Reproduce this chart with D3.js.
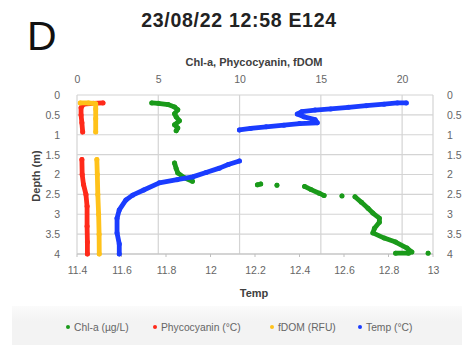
<!DOCTYPE html>
<html>
<head>
<meta charset="utf-8">
<script src="https://cdn.jsdelivr.net/npm/d3@7"></script>
<style>
  html, body { margin: 0; padding: 0; background: #ffffff; }
  svg { display: block; }
  text { font-family: "Liberation Sans", Arial, sans-serif; }
</style>
</head>
<body>
<svg id="chart" width="462" height="345"></svg>
<script>
// ---------- data ----------
const panelLabel = "D";
const title = "23/08/22 12:58 E124";
const topAxisTitle = "Chl-a, Phycocyanin, fDOM";
const bottomAxisTitle = "Temp";
const yAxisTitle = "Depth (m)";

const depthTicks = [0, 0.5, 1, 1.5, 2, 2.5, 3, 3.5, 4];
const topTicks = [0, 5, 10, 15, 20];
const bottomTicks = [11.4, 11.6, 11.8, 12, 12.2, 12.4, 12.6, 12.8, 13];

// [value, depth]; null = gap
const chlA = [
  [4.6,0.2],[5.0,0.21],[5.6,0.24],[6.0,0.3],[6.2,0.37],[6.0,0.47],[6.1,0.55],
  [6.3,0.65],[6.0,0.75],[6.2,0.83],[6.1,0.9],
  null,
  [6.0,1.71],[6.1,1.85],[6.2,1.96],[6.6,2.08],[7.1,2.17],
  null,
  [11.1,2.26],[11.3,2.24],
  null,
  [12.3,2.27],
  null,
  [14.0,2.3],[14.4,2.38],[14.9,2.47],[15.2,2.53],
  null,
  [16.3,2.54],
  null,
  [17.1,2.56],[17.5,2.7],[17.9,2.85],[18.2,2.97],[18.6,3.1],[18.6,3.2],
  [18.3,3.35],[18.2,3.47],[18.9,3.6],[19.6,3.7],[20.3,3.85],[20.6,3.95],
  null,
  [19.6,3.98],[20.4,3.98],
  null,
  [21.6,3.98]
];
const phyco = [
  [1.6,0.2],[1.0,0.21],[0.4,0.23],[0.25,0.32],[0.25,0.5],[0.3,0.7],[0.35,0.93],
  null,
  [0.3,1.62],[0.32,2.0],[0.4,2.25],[0.55,2.5],[0.62,2.8],[0.62,3.3],[0.64,3.7],[0.64,4.0]
];
const fdom = [
  [0.2,0.2],[0.7,0.2],[1.15,0.22],[1.15,0.35],[1.15,0.6],[1.15,0.93],
  null,
  [1.22,1.62],[1.25,2.0],[1.28,2.5],[1.33,3.0],[1.36,3.5],[1.37,4.0]
];
const temp = [
  [12.88,0.2],[12.84,0.2],[12.78,0.23],[12.70,0.27],[12.62,0.31],[12.54,0.35],
  [12.47,0.38],[12.41,0.42],[12.39,0.48],[12.42,0.55],[12.47,0.62],[12.48,0.7],
  [12.40,0.72],[12.33,0.76],[12.25,0.8],[12.18,0.84],[12.13,0.88],
  null,
  [12.13,1.66],[12.08,1.75],[12.04,1.84],[11.98,1.95],[11.92,2.06],[11.85,2.13],
  [11.77,2.21],[11.70,2.39],[11.65,2.52],[11.62,2.64],[11.59,2.89],[11.58,3.1],
  [11.58,3.47],[11.59,3.75],[11.59,4.0]
];

const legendLabels = ["Chl-a (µg/L)", "Phycocyanin (°C)", "fDOM (RFU)", "Temp (°C)"];
const colors = ["#1a9a1a", "#ff2a1a", "#ffc21a", "#1a3cff"];

// ---------- layout ----------
const svg = d3.select("#chart");
const plot = { left: 77, right: 433, top: 95, bottom: 254 };

const xTop = d3.scaleLinear().domain([0, 21.9]).range([plot.left, plot.right]);
const xBot = d3.scaleLinear().domain([11.4, 13]).range([plot.left, plot.right]);
const y = d3.scaleLinear().domain([0, 4]).range([plot.top, plot.bottom]);

// legend background
const bgGrad = svg.append("defs").append("linearGradient").attr("id", "lgbg")
  .attr("x1", 0).attr("x2", 0).attr("y1", 0).attr("y2", 1);
bgGrad.append("stop").attr("offset", 0).attr("stop-color", "#fbfbfb");
bgGrad.append("stop").attr("offset", 0.4).attr("stop-color", "#f3f3f3");
bgGrad.append("stop").attr("offset", 1).attr("stop-color", "#f3f3f3");
svg.append("rect").attr("x", 12).attr("y", 306).attr("width", 450).attr("height", 39)
  .attr("fill", "url(#lgbg)");

// gridlines
const g = svg.append("g");
g.selectAll(".hg").data(depthTicks).join("line")
  .attr("x1", plot.left).attr("x2", plot.right)
  .attr("y1", d => y(d)).attr("y2", d => y(d))
  .attr("stroke", "#d4d4d4").attr("stroke-width", 1.2);
g.selectAll(".vg").data(topTicks).join("line")
  .attr("x1", d => xTop(d)).attr("x2", d => xTop(d))
  .attr("y1", plot.top).attr("y2", plot.bottom)
  .attr("stroke", "#d4d4d4").attr("stroke-width", 1.2);
g.append("line").attr("x1", plot.right).attr("x2", plot.right)
  .attr("y1", plot.top).attr("y2", plot.bottom)
  .attr("stroke", "#d4d4d4").attr("stroke-width", 1.2);
g.append("line").attr("x1", plot.left).attr("x2", plot.right)
  .attr("y1", plot.bottom).attr("y2", plot.bottom)
  .attr("stroke", "#bfbfbf").attr("stroke-width", 1.2);

// axes (library axes, styled)
const tickColor = "#666666";
function styleAxis(sel) {
  sel.select(".domain").remove();
  sel.selectAll(".tick line").remove();
  sel.selectAll("text").attr("fill", tickColor).attr("font-size", 10.5)
    .attr("font-family", "'Liberation Sans', Arial, sans-serif");
}
svg.append("g").attr("transform", `translate(0,${plot.top - 9})`)
  .call(d3.axisTop(xTop).tickValues(topTicks).tickFormat(d3.format("d")).tickSize(0))
  .call(styleAxis);
svg.append("g").attr("transform", `translate(0,${plot.bottom + 10})`)
  .call(d3.axisBottom(xBot).tickValues(bottomTicks).tickFormat(d => d3.format("")(+d.toFixed(1))).tickSize(0))
  .call(styleAxis);
svg.append("g").attr("transform", `translate(${plot.left - 14},0)`)
  .call(d3.axisLeft(y).tickValues(depthTicks).tickFormat(d => String(d)).tickSize(0))
  .call(styleAxis);
svg.append("g").attr("transform", `translate(${plot.right + 11},0)`)
  .call(d3.axisRight(y).tickValues(depthTicks).tickFormat(d => String(d)).tickSize(0))
  .call(styleAxis);

// small tick marks on bottom axis
svg.append("g").selectAll("line").data(bottomTicks).join("line")
  .attr("x1", d => xBot(d)).attr("x2", d => xBot(d))
  .attr("y1", plot.bottom).attr("y2", plot.bottom + 3)
  .attr("stroke", "#bfbfbf");

// series
const series = [
  { data: chlA, x: xTop, color: colors[0] },
  { data: phyco, x: xTop, color: colors[1] },
  { data: fdom, x: xTop, color: colors[2] },
  { data: temp, x: xBot, color: colors[3] }
];
const seriesG = svg.append("g");
series.forEach(s => {
  const line = d3.line().defined(d => d !== null)
    .x(d => s.x(d[0])).y(d => y(d[1]));
  seriesG.append("path").attr("d", line(s.data))
    .attr("fill", "none").attr("stroke", s.color)
    .attr("stroke-width", 4.8).attr("stroke-linecap", "round").attr("stroke-linejoin", "round");
  seriesG.append("g").selectAll("circle").data(s.data.filter(d => d !== null)).join("circle")
    .attr("cx", d => s.x(d[0])).attr("cy", d => y(d[1])).attr("r", 2.5)
    .attr("fill", s.color);
});

// titles
svg.append("text").attr("x", 27).attr("y", 50).attr("font-size", 41)
  .attr("fill", "#111").text(panelLabel);
svg.append("text").attr("x", 239).attr("y", 27).attr("text-anchor", "middle")
  .attr("font-size", 19.5).attr("font-weight", "bold").attr("letter-spacing", 0.7)
  .attr("fill", "#222").text(title);
svg.append("text").attr("x", 254).attr("y", 66).attr("text-anchor", "middle")
  .attr("font-size", 11).attr("font-weight", "bold").attr("fill", "#404040").text(topAxisTitle);
svg.append("text").attr("x", 254).attr("y", 297).attr("text-anchor", "middle")
  .attr("font-size", 11).attr("font-weight", "bold").attr("fill", "#404040").text(bottomAxisTitle);
svg.append("text").attr("transform", `translate(40,176) rotate(-90)`).attr("text-anchor", "middle")
  .attr("font-size", 11).attr("font-weight", "bold").attr("fill", "#404040").text(yAxisTitle);

// legend
const legendX = [68, 155, 272, 360];
const lg = svg.append("g").selectAll("g").data(legendLabels).join("g")
  .attr("transform", (d, i) => `translate(${legendX[i]},327)`);
lg.append("circle").attr("r", 2).attr("fill", (d, i) => colors[i]);
lg.append("text").attr("x", 6).attr("y", 3.7).attr("font-size", 10.3)
  .attr("fill", "#666").text(d => d);
</script>
</body>
</html>
